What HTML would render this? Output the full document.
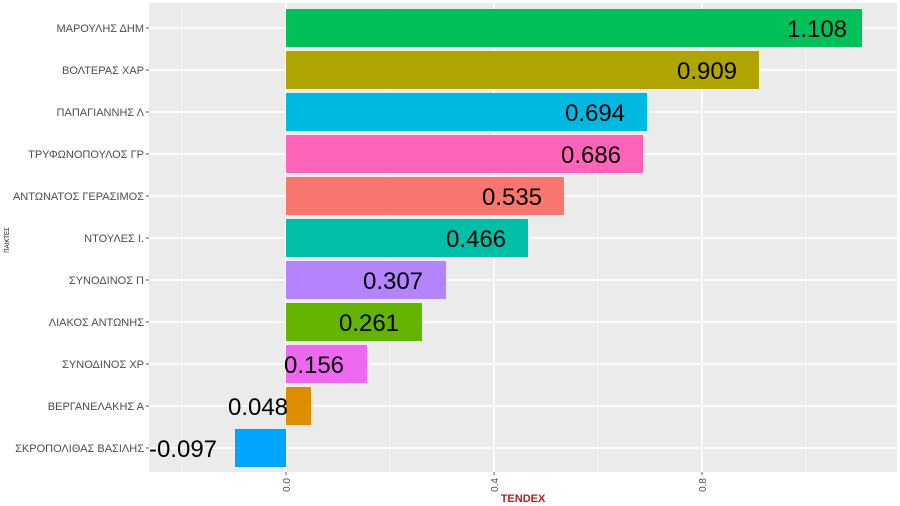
<!DOCTYPE html>
<html><head><meta charset="utf-8"><style>body{margin:0;background:#fff}svg{display:block}</style></head><body>
<svg width="900" height="506" xmlns="http://www.w3.org/2000/svg" font-family="Liberation Sans, sans-serif">
<rect x="149" y="3" width="748" height="469" fill="#ebebeb"/>
<g stroke="#f5f5f5" stroke-width="0.8">
<line x1="182" y1="3" x2="182" y2="472"/><line x1="390" y1="3" x2="390" y2="472"/><line x1="598" y1="3" x2="598" y2="472"/><line x1="806" y1="3" x2="806" y2="472"/>
</g>
<g stroke="#fff" stroke-width="1.5">
<line x1="286" y1="3" x2="286" y2="472"/><line x1="494" y1="3" x2="494" y2="472"/><line x1="702" y1="3" x2="702" y2="472"/>
<line x1="149" y1="28" x2="897" y2="28"/><line x1="149" y1="70" x2="897" y2="70"/><line x1="149" y1="112" x2="897" y2="112"/><line x1="149" y1="154" x2="897" y2="154"/><line x1="149" y1="196" x2="897" y2="196"/><line x1="149" y1="238" x2="897" y2="238"/><line x1="149" y1="280" x2="897" y2="280"/><line x1="149" y1="322" x2="897" y2="322"/><line x1="149" y1="364" x2="897" y2="364"/><line x1="149" y1="406" x2="897" y2="406"/><line x1="149" y1="448" x2="897" y2="448"/>
</g>
<rect x="286" y="9" width="576" height="38" fill="#00c05a"/>
<rect x="286" y="51" width="473" height="38" fill="#b0a400"/>
<rect x="286" y="93" width="361" height="38" fill="#00b8e0"/>
<rect x="286" y="135" width="357" height="38" fill="#ff64b8"/>
<rect x="286" y="177" width="278" height="38" fill="#f8766d"/>
<rect x="286" y="219" width="242" height="38" fill="#00bfa8"/>
<rect x="286" y="261" width="160" height="38" fill="#b483ff"/>
<rect x="286" y="303" width="136" height="38" fill="#63b400"/>
<rect x="286" y="345" width="81" height="38" fill="#ec69ef"/>
<rect x="286" y="387" width="25" height="38" fill="#dc8d00"/>
<rect x="235" y="429" width="51" height="38" fill="#00a5ff"/>
<g font-size="24" text-anchor="middle" fill="#000">
<text x="817" y="37">1.108</text><text x="707" y="79">0.909</text><text x="595" y="121">0.694</text><text x="591" y="163">0.686</text><text x="512" y="205">0.535</text><text x="476" y="247">0.466</text><text x="393" y="289">0.307</text><text x="369" y="331">0.261</text><text x="314" y="373">0.156</text><text x="258" y="415">0.048</text><text x="183" y="457">-0.097</text>
</g>
<g font-size="11" text-anchor="end" fill="#4d4d4d">
<text x="144" y="32">ΜΑΡΟΥΛΗΣ ΔΗΜ</text><text x="144" y="74">ΒΟΛΤΕΡΑΣ ΧΑΡ</text><text x="144" y="116">ΠΑΠΑΓΙΑΝΝΗΣ Λ</text><text x="144" y="158">ΤΡΥΦΩΝΟΠΟΥΛΟΣ ΓΡ</text><text x="144" y="200">ΑΝΤΩΝΑΤΟΣ ΓΕΡΑΣΙΜΟΣ</text><text x="144" y="242">ΝΤΟΥΛΕΣ Ι.</text><text x="144" y="284">ΣΥΝΟΔΙΝΟΣ Π</text><text x="144" y="326">ΛΙΑΚΟΣ ΑΝΤΩΝΗΣ</text><text x="144" y="368">ΣΥΝΟΔΙΝΟΣ ΧΡ</text><text x="144" y="410">ΒΕΡΓΑΝΕΛΑΚΗΣ Α</text><text x="144" y="452">ΣΚΡΟΠΟΛΙΘΑΣ ΒΑΣΙΛΗΣ</text>
</g>
<g stroke="#333" stroke-width="0.8">
<line x1="146" y1="28" x2="149" y2="28"/><line x1="146" y1="70" x2="149" y2="70"/><line x1="146" y1="112" x2="149" y2="112"/><line x1="146" y1="154" x2="149" y2="154"/><line x1="146" y1="196" x2="149" y2="196"/><line x1="146" y1="238" x2="149" y2="238"/><line x1="146" y1="280" x2="149" y2="280"/><line x1="146" y1="322" x2="149" y2="322"/><line x1="146" y1="364" x2="149" y2="364"/><line x1="146" y1="406" x2="149" y2="406"/><line x1="146" y1="448" x2="149" y2="448"/>
<line x1="286" y1="472" x2="286" y2="475"/><line x1="494" y1="472" x2="494" y2="475"/><line x1="702" y1="472" x2="702" y2="475"/>
</g>
<g font-size="10" fill="#4d4d4d" text-anchor="end">
<text transform="translate(290,478) rotate(-90)">0.0</text>
<text transform="translate(498,478) rotate(-90)">0.4</text>
<text transform="translate(706,478) rotate(-90)">0.8</text>
</g>
<text x="523" y="502" font-size="11" font-weight="bold" fill="#b22222" text-anchor="middle">TENDEX</text>
<text transform="translate(9,240) rotate(-90)" font-size="6" fill="#000" text-anchor="middle">ΠΑΙΚΤΕΣ</text>
</svg>
</body></html>
